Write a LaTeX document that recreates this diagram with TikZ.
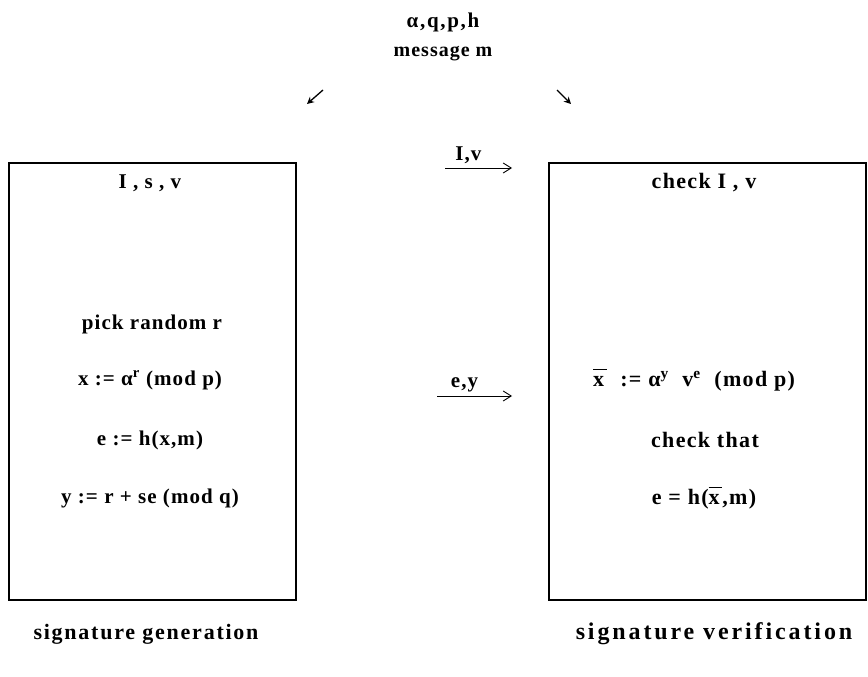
\documentclass[tikz,border=0pt]{standalone}
\usepackage{fontspec}
\setmainfont[LetterSpace=5]{Liberation Serif}
\newfontfamily\looseserif[LetterSpace=6]{Liberation Serif}
\newfontfamily\labelserif[LetterSpace=8]{Liberation Serif}
\newfontfamily\wideserif[LetterSpace=12]{Liberation Serif}
\usepackage{tikz}
\usetikzlibrary{arrows.meta,positioning}
\tikzset{
  protobox/.style={rectangle, draw=black, line width=1.8pt},
  prototext/.style={font=\fontsize{21}{24}\selectfont\bfseries, inner sep=0pt},
  vertext/.style={font=\fontsize{22}{26}\looseserif\bfseries, inner sep=0pt},
  sendarrow/.style={-{Straight Barb[length=8pt,width=10pt]}, line width=0.9pt},
  paramarrow/.style={-{Stealth[length=7pt,width=7pt]}, line width=1.3pt}
}
\newcommand{\xbar}{\mbox{\rlap{\raisebox{0.72em}{\rule{0.62em}{1.1pt}}}x\hspace{0.12em}}}

\begin{document}
\begin{tikzpicture}[x=1pt,y=-1pt]
\useasboundingbox (0,0) rectangle (868,677);

% Public parameters
\node[prototext, font=\fontsize{21}{24}\labelserif\bfseries] (params) at (443,22) {α,q,p,h};
\node[prototext, font=\fontsize{20}{24}\selectfont\bfseries] (msg) at (443,54) {message m};
\coordinate (pl1) at (323,90);
\coordinate (pl2) at (307,104);
\coordinate (pr1) at (557,90);
\coordinate (pr2) at (571,104);
\draw[paramarrow] (pl1) -- (pl2);
\draw[paramarrow] (pr1) -- (pr2);

% Boxes
\node[protobox, minimum width=287pt, minimum height=437pt] (signer) at (152.5,381.5) {};
\node[protobox, minimum width=317pt, minimum height=437pt] (verifier) at (707.5,381.5) {};

% Signer side
\node[prototext] (keys) at (150,183) {I , s , v};
\node[prototext] (pick) at (152,324) {pick random r};
\node[prototext] (commit) at (150,380) {x := α\textsuperscript{r} (mod p)};
\node[prototext] (hash) at (150,440) {e := h(x,m)};
\node[prototext] (resp) at (150,498) {y := r + se (mod q)};
\node[prototext, font=\fontsize{22}{26}\labelserif\bfseries] (gen) at (146,634) {signature generation};

% Verifier side
\node[vertext] (chk) at (704,183) {check I , v};
\node[vertext] (recomp) at (694,380) {\xbar\ \ :=\ α\textsuperscript{y}\ \ v\textsuperscript{e}\ \ (mod p)};
\node[vertext] (chkthat) at (705,440) {check that};
\node[vertext] (eq) at (704,498) {e = h(\xbar,m)};
\node[prototext, font=\fontsize{24}{28}\wideserif\bfseries] (ver) at (714,634) {signature verification};

% Messages
\coordinate (iv1) at (445,168);
\coordinate (iv2) at (512,168);
\draw[sendarrow] (iv1) -- node[prototext, above=4pt, xshift=-10pt] (ivlab) {I,v} (iv2);
\coordinate (ey1) at (437,396);
\coordinate (ey2) at (512,396);
\draw[sendarrow] (ey1) -- node[prototext, above=4pt, xshift=-10pt] (eylab) {e,y} (ey2);
\end{tikzpicture}
\end{document}
